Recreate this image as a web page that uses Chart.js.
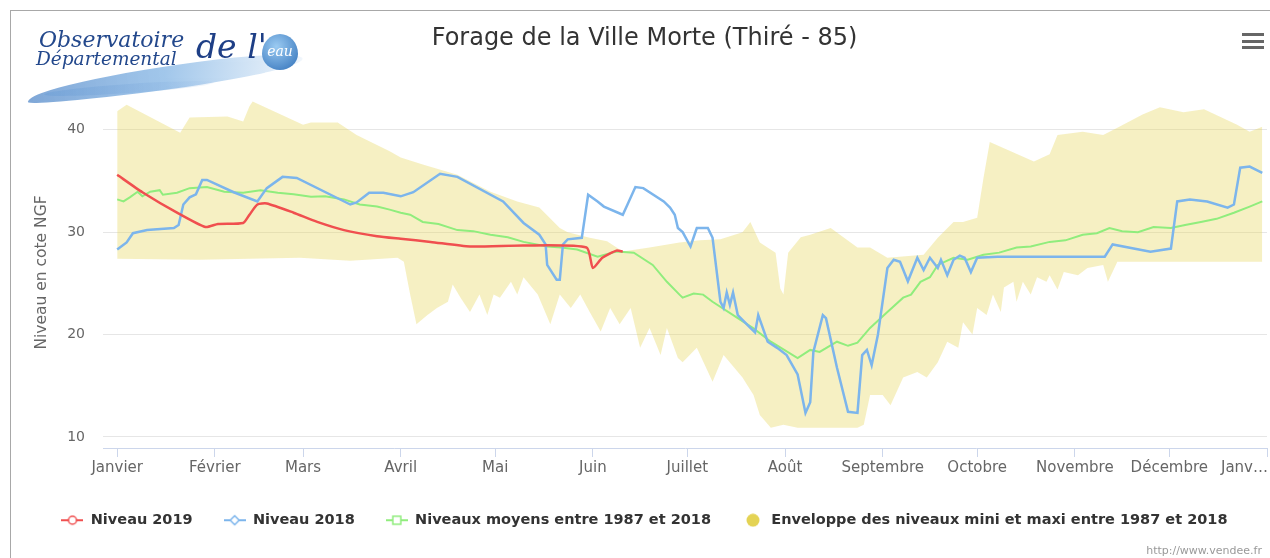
<!DOCTYPE html>
<html>
<head>
<meta charset="utf-8">
<script src="https://cdn.jsdelivr.net/npm/chart.js@4.4.0/dist/chart.umd.min.js"></script>
<style>
html, body { margin: 0; padding: 0; background: #fff; overflow: hidden; }
#wrap { position: relative; width: 1270px; height: 558px; }
#frame { position: absolute; left: 10px; top: 10px; width: 1270px; height: 560px; border-top: 1px solid #a8a8a8; border-left: 1px solid #a8a8a8; }
#chart { position: absolute; left: 0; top: 0; }
#logo { position: absolute; left: 24px; top: 24px; width: 290px; height: 76px; }
#logo .sw1 { position: absolute; left: 2px; top: 42px; width: 278px; height: 24px;
  border-radius: 70% 30% 60% 40% / 80% 40% 60% 20%;
  background: linear-gradient(to right, rgba(95,145,205,0.8), rgba(130,180,228,0.75) 50%, rgba(185,212,240,0.2));
  transform: rotate(-7deg); }
#logo .sw2 { position: absolute; left: 20px; top: 60px; width: 170px; height: 9px; border-radius: 50%;
  background: linear-gradient(to right, rgba(110,160,215,0.55), rgba(170,200,235,0.15)); transform: rotate(-4deg); }
#logo span { position: absolute; font-family: "DejaVu Serif", serif; font-style: italic; color: #23488c; white-space: nowrap; }
#logo .l1 { left: 15px; top: 3px; font-size: 22px; }
#logo .l2 { left: 12px; top: 24px; font-size: 18.5px; }
#logo .l3 { left: 172px; top: 3px; font-size: 33px; color: #1e3f86; }
#logo .drop { left: 238px; top: 10px; width: 36px; height: 36px; border-radius: 50% 50% 50% 50% / 55% 55% 45% 45%; font-size: 14px; line-height: 34px; text-align: center;
  color: #fff; font-style: italic; background: radial-gradient(circle at 40% 35%, #9bcbf2, #2f6fb8); }
#menu { position: absolute; left: 1242px; top: 33px; width: 22px; }
#menu div { height: 3px; background: #666; margin-bottom: 3.5px; }
#credits { position: absolute; right: 8px; top: 544px; font: 11px "DejaVu Sans", sans-serif; color: #999; }
</style>
</head>
<body>
<div id="wrap">
  <canvas id="chart" width="1270" height="558"></canvas>
  <div id="frame"></div>
  <div id="logo">
    <div class="sw1"></div>
    <div class="sw2"></div>
    <span class="l1">Observatoire</span>
    <span class="l2">Départemental</span>
    <span class="l3">de l'</span>
    <span class="drop">eau</span>
  </div>
  <div id="menu"><div></div><div></div><div></div></div>
  <div id="credits">http://www.vendee.fr</div>
</div>
<script>
// jours depuis le 1er janvier
const monthStarts = [0, 31, 59, 90, 120, 151, 181, 212, 243, 273, 304, 334, 365]
const monthLabels = ['Janvier', 'Février', 'Mars', 'Avril', 'Mai', 'Juin', 'Juillet', 'Août', 'Septembre', 'Octobre', 'Novembre', 'Décembre', '']
const yTicks = [10, 20, 30, 40]

const niveau2019Days = [0, 8, 19, 28, 32, 40, 42, 44.5, 47.5, 56, 63.5, 72, 82.5, 90, 99.5, 112, 129, 149, 151, 154, 158.5, 160.5]
const niveau2019 = [35.6, 33.9, 31.9, 30.5, 30.8, 30.9, 31.7, 32.7, 32.8, 31.9, 31.0, 30.2, 29.6, 29.35, 29.05, 28.6, 28.7, 28.5, 26.5, 27.5, 28.2, 28.1]

const niveau2018Days = [0, 3, 5, 9.5, 18, 19.5, 21, 23, 25, 27, 28.5, 37, 44.5, 47.5, 52.5, 57, 74, 76, 80, 84.5, 90, 94, 102.5, 108, 122.5, 129, 134, 136, 136.5, 139.5, 140.5, 141.5, 143, 147.5, 149.5, 152.5, 154.5, 160.5, 162, 164.5, 167, 173.5, 175.5, 177, 178, 179.5, 182, 184, 187.5, 189, 191.5, 192.5, 193.5, 194.5, 195.5, 197, 201, 202.5, 203.5, 206.5, 209.5, 212.5, 216, 218.5, 220, 221, 224, 225, 228.5, 232, 235, 236.5, 238, 239.5, 241.5, 244.5, 246.5, 248.5, 251, 254, 256, 258, 260.5, 261.5, 263.5, 265.5, 267.5, 269, 271, 273, 279.5, 296, 313.5, 316, 328, 334.5, 336.5, 340.5, 346, 352.5, 354.5, 356.5, 359.5, 363.5]
const niveau2018 = [28.3, 29.0, 29.9, 30.2, 30.4, 30.7, 32.7, 33.4, 33.7, 35.1, 35.1, 33.9, 33.0, 34.3, 35.4, 35.3, 32.7, 32.9, 33.85, 33.85, 33.5, 33.9, 35.7, 35.4, 33.0, 30.9, 29.75, 28.8, 26.8, 25.35, 25.35, 28.8, 29.3, 29.45, 33.65, 33.0, 32.5, 31.7, 32.7, 34.4, 34.3, 33.0, 32.4, 31.7, 30.4, 30.0, 28.6, 30.4, 30.4, 29.45, 23.2, 22.6, 24.1, 22.9, 24.1, 21.9, 20.65, 20.2, 21.9, 19.3, 18.7, 18.0, 16.1, 12.35, 13.4, 18.3, 21.9, 21.6, 16.75, 12.45, 12.35, 18.0, 18.5, 17.0, 20.0, 26.5, 27.3, 27.1, 25.2, 27.5, 26.3, 27.5, 26.5, 27.3, 25.8, 27.3, 27.7, 27.5, 26.1, 27.5, 27.6, 27.6, 27.6, 28.8, 28.1, 28.4, 33.0, 33.2, 33.0, 32.4, 32.7, 36.3, 36.4, 35.8]

const moyenneDays = [0, 2, 4, 6.5, 8, 10.5, 13.5, 14.5, 19, 23, 28.5, 34, 40, 45.5, 51, 56, 61.5, 66, 72, 77, 82.5, 86.5, 90, 93, 97, 102, 108, 113, 118.5, 124, 129, 136.5, 141, 146, 152.5, 158.5, 164, 170, 174.5, 178.5, 179.5, 183, 186, 189, 197, 202, 207.5, 216, 220, 223, 228.5, 232, 235, 239, 244.5, 249.5, 252, 255, 258, 260.5, 265.5, 270, 275, 280, 285.5, 290, 296, 301, 306.5, 311, 315, 319, 324, 329, 334.5, 339, 344, 349, 354.5, 359.5, 363.5]
const moyenne = [33.2, 33.0, 33.4, 33.95, 33.5, 33.95, 34.1, 33.65, 33.85, 34.3, 34.4, 33.95, 33.85, 34.1, 33.85, 33.7, 33.45, 33.5, 33.2, 32.7, 32.5, 32.2, 31.9, 31.7, 31.0, 30.8, 30.2, 30.1, 29.75, 29.5, 29.05, 28.6, 28.5, 28.3, 27.6, 28.1, 28.0, 26.8, 25.15, 23.9, 23.6, 24.0, 23.9, 23.2, 21.6, 20.6, 19.3, 17.7, 18.5, 18.3, 19.3, 18.9, 19.2, 20.65, 22.2, 23.6, 23.9, 25.15, 25.6, 26.8, 27.5, 27.3, 27.8, 28.0, 28.5, 28.6, 29.05, 29.2, 29.75, 29.9, 30.4, 30.1, 30.0, 30.5, 30.4, 30.7, 31.0, 31.3, 31.9, 32.5, 33.0]

const enveloppeMaxDays = [0, 3, 20, 23, 35, 40, 42, 43, 59, 61.5, 70, 76, 86.5, 90, 97, 108, 118.5, 127, 134, 140.5, 143, 150, 155.5, 160.5, 169, 178.5, 185, 191.5, 198.5, 201, 204, 209, 210.5, 211.5, 213, 217, 220, 226.5, 235, 239, 244.5, 256, 260.5, 265.5, 268.5, 273, 275, 277, 291, 296, 298.5, 306.5, 313, 317.5, 325.5, 331, 338.5, 345, 355.5, 359.5, 363.5]
const enveloppeMax = [41.8, 42.45, 39.7, 41.2, 41.3, 40.8, 42.3, 42.75, 40.5, 40.7, 40.7, 39.5, 37.9, 37.3, 36.6, 35.6, 33.95, 33.0, 32.4, 30.4, 30.0, 29.45, 29.1, 28.1, 28.5, 29.0, 29.2, 29.3, 30.0, 31.0, 29.0, 28.0, 24.5, 23.9, 28.0, 29.5, 29.75, 30.4, 28.5, 28.5, 27.5, 27.8, 29.45, 31.0, 31.0, 31.4, 35.3, 38.8, 36.9, 37.6, 39.5, 39.8, 39.5, 40.2, 41.5, 42.2, 41.7, 42.0, 40.5, 39.8, 40.3]

const enveloppeMinDays = [0, 26, 58, 74, 89, 91, 93, 95, 98.5, 101.5, 105, 106.5, 109, 112, 115, 117.5, 119.5, 121.5, 125, 127, 129, 133.5, 137.5, 140.5, 144, 147, 150, 153.5, 156.5, 159.5, 163, 166, 169, 172.5, 174.5, 178, 179.5, 184, 189, 192.5, 198.5, 202, 204, 207.5, 211.5, 216, 235, 237, 239, 243, 245.5, 249.5, 254, 257, 260.5, 263.5, 267, 268.5, 271.5, 273, 276, 278, 280.5, 281.5, 284.5, 285.5, 287.5, 290, 292, 295, 296, 298.5, 300.5, 305, 308, 313, 314.5, 317.5, 363.5]
const enveloppeMin = [27.4, 27.3, 27.5, 27.2, 27.5, 27.1, 23.9, 21.0, 21.9, 22.6, 23.2, 24.9, 23.6, 22.2, 23.9, 21.9, 23.9, 23.6, 25.15, 23.9, 25.6, 23.9, 21.0, 23.9, 22.6, 23.9, 22.2, 20.3, 22.6, 21.0, 22.6, 18.7, 20.65, 18.0, 20.65, 17.7, 17.3, 18.7, 15.4, 18.0, 15.8, 14.1, 12.15, 10.9, 11.2, 10.9, 10.9, 11.2, 14.1, 14.1, 13.1, 15.8, 16.35, 15.8, 17.3, 19.3, 18.7, 21.2, 20.0, 22.6, 21.9, 23.9, 22.2, 24.6, 25.15, 23.2, 25.15, 23.9, 25.6, 25.15, 25.8, 24.4, 26.1, 25.8, 26.5, 26.8, 25.15, 27.1, 27.1]

const rouge = '#f04f4f'
const bleu = '#7cb5ec'
const vert = '#90ed7d'
const jaune = '#e4d354'

function pts(days, values) {
    return days.map((d, i) => ({x: d, y: values[i]}))
}

// petites icones de legende (ligne + marqueur)
function legendIcon(color, shape) {
    let c = document.createElement('canvas')
    c.width = 22
    c.height = 14
    let g = c.getContext('2d')
    if (shape == 'dot') {
        g.fillStyle = color
        g.beginPath()
        g.arc(11, 7, 6.5, 0, 2 * Math.PI)
        g.fill()
        return c
    }
    g.strokeStyle = color
    g.lineWidth = 2
    g.beginPath()
    g.moveTo(0, 7)
    g.lineTo(22, 7)
    g.stroke()
    g.lineWidth = 1.5
    g.fillStyle = '#fff'
    g.beginPath()
    if (shape == 'circle') g.arc(11, 7, 4, 0, 2 * Math.PI)
    if (shape == 'diamond') { g.moveTo(11, 2.5); g.lineTo(15.5, 7); g.lineTo(11, 11.5); g.lineTo(6.5, 7); g.closePath() }
    if (shape == 'square') g.rect(7, 3, 8, 8)
    g.fill()
    g.stroke()
    return c
}

const lastTickLabel = {
    id: 'lastTickLabel',
    afterDraw(chart) {
        let s = chart.scales.x
        let ctx = chart.ctx
        ctx.save()
        ctx.font = '15px "DejaVu Sans"'
        ctx.fillStyle = '#666'
        ctx.textAlign = 'right'
        ctx.textBaseline = 'middle'
        ctx.fillText('Janv…', 1268, s.top + 9 + 2 + 9)
        ctx.restore()
    }
}

let ctx = document.getElementById('chart').getContext('2d')
new Chart(ctx, {
    type: 'line',
    data: {
        datasets: [{
            label: 'Niveau 2019',
            data: pts(niveau2019Days, niveau2019),
            borderColor: rouge,
            borderWidth: 2.5,
            pointRadius: 0,
            pointHoverRadius: 0,
            pointStyle: legendIcon(rouge, 'circle'),
            tension: 0.2,
            fill: false
        }, {
            label: 'Niveau 2018',
            data: pts(niveau2018Days, niveau2018),
            borderColor: bleu,
            borderWidth: 2.5,
            pointRadius: 0,
            pointHoverRadius: 0,
            pointStyle: legendIcon(bleu, 'diamond'),
            tension: 0,
            fill: false
        }, {
            label: 'Niveaux moyens entre 1987 et 2018',
            data: pts(moyenneDays, moyenne),
            borderColor: vert,
            borderWidth: 2,
            pointRadius: 0,
            pointHoverRadius: 0,
            pointStyle: legendIcon(vert, 'square'),
            tension: 0,
            fill: false
        }, {
            label: 'Enveloppe des niveaux mini et maxi entre 1987 et 2018',
            data: pts(enveloppeMaxDays, enveloppeMax),
            borderColor: 'transparent',
            borderWidth: 0,
            backgroundColor: 'rgba(228, 211, 84, 0.35)',
            pointRadius: 0,
            pointHoverRadius: 0,
            pointStyle: legendIcon(jaune, 'dot'),
            tension: 0,
            fill: '+1'
        }, {
            label: 'min',
            data: pts(enveloppeMinDays, enveloppeMin),
            borderColor: 'transparent',
            borderWidth: 0,
            pointRadius: 0,
            pointHoverRadius: 0,
            tension: 0,
            fill: false
        }]
    },
    options: {
        responsive: false,
        animation: false,
        devicePixelRatio: 1,
        layout: {padding: {left: 22, right: 3, top: 0, bottom: 20.5}},
        plugins: {
            title: {
                display: true,
                text: 'Forage de la Ville Morte (Thiré - 85)',
                color: '#333',
                font: {family: '"DejaVu Sans"', size: 24, weight: 'normal'},
                padding: {top: 24.5, bottom: 43.7}
            },
            legend: {
                position: 'bottom',
                labels: {
                    usePointStyle: true,
                    pointStyleWidth: 22,
                    padding: 31,
                    color: '#333',
                    font: {family: '"DejaVu Sans"', size: 14.5, weight: 'bold'},
                    filter: item => item.datasetIndex < 4
                }
            },
            tooltip: {enabled: false}
        },
        scales: {
            x: {
                type: 'linear',
                min: -4.5,
                max: 365,
                afterBuildTicks: s => { s.ticks = monthStarts.map(v => ({value: v})) },
                afterFit: s => { s.height = 34 },
                grid: {drawOnChartArea: false, color: '#ccd6eb', tickLength: 9},
                border: {color: '#ccd6eb'},
                ticks: {
                    color: '#666',
                    font: {family: '"DejaVu Sans"', size: 15},
                    padding: 2,
                    maxRotation: 0,
                    autoSkip: false,
                    callback: (v, i) => monthLabels[i]
                }
            },
            y: {
                min: 8.92,
                max: 43.2,
                afterBuildTicks: s => { s.ticks = yTicks.map(v => ({value: v})) },
                afterFit: s => { s.width = 81 },
                grid: {color: '#e6e6e6', drawTicks: false},
                border: {display: false},
                ticks: {color: '#666', font: {family: '"DejaVu Sans"', size: 14}, padding: 18},
                title: {
                    display: true,
                    text: 'Niveau en cote NGF',
                    color: '#666',
                    font: {family: '"DejaVu Sans"', size: 15.5},
                    padding: {top: 11, bottom: 0}
                }
            }
        }
    },
    plugins: [lastTickLabel]
})
</script>
</body>
</html>
